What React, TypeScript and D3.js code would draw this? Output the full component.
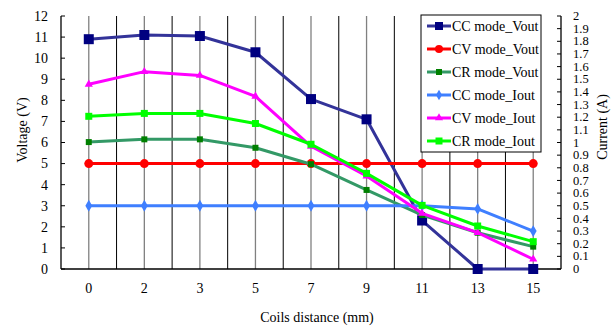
import React, { useEffect, useRef } from 'react';
import * as d3 from 'd3';

const distances = ['0', '2', '3', '5', '7', '9', '11', '13', '15'];

const ccVout = [10.9, 11.1, 11.05, 10.28, 8.06, 7.1, 2.3, 0, 0];
const cvVout = [5, 5, 5, 5, 5, 5, 5, 5, 5];
const crVout = [6.02, 6.15, 6.15, 5.75, 4.97, 3.75, 2.56, 1.72, 1.06];
const ccIout = [0.5, 0.5, 0.5, 0.5, 0.5, 0.5, 0.5, 0.475, 0.3];
const cvIout = [1.46, 1.56, 1.53, 1.365, 0.97, 0.735, 0.44, 0.287, 0.077];
const crIout = [1.207, 1.23, 1.23, 1.15, 0.986, 0.756, 0.503, 0.34, 0.216];

const voltTicks = d3.range(0, 13, 1);
const currTicks = d3.range(0, 21, 1).map(i => i / 10);

const series = [
  { name: 'CC mode_Vout', values: ccVout, axis: 'left', line: '#333399', fill: '#000080', shape: 'square', size: 10 },
  { name: 'CV mode_Vout', values: cvVout, axis: 'left', line: '#ff0000', fill: '#ff0000', shape: 'circle', size: 9 },
  { name: 'CR mode_Vout', values: crVout, axis: 'left', line: '#339966', fill: '#008000', shape: 'square', size: 6 },
  { name: 'CC mode_Iout', values: ccIout, axis: 'right', line: '#3f7fff', fill: '#3f7fff', shape: 'diamond', size: 9 },
  { name: 'CV mode_Iout', values: cvIout, axis: 'right', line: '#ff00ff', fill: '#ff00ff', shape: 'triangle', size: 8 },
  { name: 'CR mode_Iout', values: crIout, axis: 'right', line: '#00ff00', fill: '#00ff00', shape: 'square', size: 7 },
];

const App = () => {
  const ref = useRef<SVGSVGElement | null>(null);

  useEffect(() => {
    drawChart();
  }, []);

  const drawChart = () => {
    const svg = d3.select(ref.current);
    svg.selectAll('*').remove();

    const left = 61, right = 561, top = 16, bottom = 269;

    const x = d3.scaleBand().domain(distances).range([left, right]);
    const yV = d3.scaleLinear().domain([0, 12]).range([bottom, top]);
    const yI = d3.scaleLinear().domain([0, 2]).range([bottom, top]);
    const cx = (d: string) => (x(d) as number) + x.bandwidth() / 2;

    // Vertical gridlines: grey at categories, black between them
    distances.forEach((d, i) => {
      svg.append('line')
        .attr('x1', cx(d)).attr('x2', cx(d))
        .attr('y1', top).attr('y2', bottom)
        .attr('stroke', '#808080').attr('stroke-width', 1.3);
      if (i > 0) {
        const bx = x(d) as number;
        svg.append('line')
          .attr('x1', bx).attr('x2', bx)
          .attr('y1', top).attr('y2', bottom)
          .attr('stroke', '#000').attr('stroke-width', 1);
      }
    });

    // Axes
    svg.append('line').attr('x1', left).attr('x2', left).attr('y1', top).attr('y2', bottom).attr('stroke', '#000').attr('stroke-width', 1.3);
    svg.append('line').attr('x1', right).attr('x2', right).attr('y1', top).attr('y2', bottom).attr('stroke', '#000').attr('stroke-width', 1.3);
    svg.append('line').attr('x1', left).attr('x2', right).attr('y1', bottom).attr('y2', bottom).attr('stroke', '#000').attr('stroke-width', 1.3);

    voltTicks.forEach(t => {
      svg.append('line').attr('x1', left).attr('x2', left + 4).attr('y1', yV(t)).attr('y2', yV(t)).attr('stroke', '#000');
      svg.append('text')
        .attr('x', 48).attr('y', yV(t)).attr('dy', '0.35em')
        .attr('text-anchor', 'end')
        .attr('font-size', 14)
        .text(t);
    });

    currTicks.forEach(t => {
      svg.append('line').attr('x1', right - 4).attr('x2', right).attr('y1', yI(t)).attr('y2', yI(t)).attr('stroke', '#000');
      svg.append('text')
        .attr('x', 573).attr('y', yI(t)).attr('dy', '0.33em')
        .attr('font-size', 12.5)
        .text(String(t));
    });

    distances.forEach(d => {
      svg.append('text')
        .attr('x', cx(d)).attr('y', 293)
        .attr('text-anchor', 'middle')
        .attr('font-size', 14)
        .text(d);
    });

    svg.append('text')
      .attr('x', 317).attr('y', 322)
      .attr('text-anchor', 'middle')
      .attr('font-size', 14)
      .text('Coils distance (mm)');

    svg.append('text')
      .attr('transform', 'translate(27,130) rotate(-90)')
      .attr('text-anchor', 'middle')
      .attr('font-size', 14)
      .text('Voltage (V)');

    svg.append('text')
      .attr('transform', 'translate(607,127) rotate(-90)')
      .attr('text-anchor', 'middle')
      .attr('font-size', 14)
      .text('Current (A)');

    const symbolOf = (shape: string, size: number) => {
      if (shape === 'circle') return d3.symbol(d3.symbolCircle, size * size * Math.PI / 4)();
      if (shape === 'diamond') return d3.symbol(d3.symbolDiamond, size * size / 2)();
      if (shape === 'triangle') return d3.symbol(d3.symbolTriangle, size * size * 0.45)();
      return d3.symbol(d3.symbolSquare, size * size)();
    };

    series.forEach(s => {
      const yScale = s.axis === 'left' ? yV : yI;
      const line = d3.line<number>()
        .x((_, i) => cx(distances[i]))
        .y(v => yScale(v));
      svg.append('path')
        .attr('d', line(s.values))
        .attr('fill', 'none')
        .attr('stroke', s.line)
        .attr('stroke-width', 3)
        .attr('stroke-linejoin', 'round');
      s.values.forEach((v, i) => {
        svg.append('path')
          .attr('d', symbolOf(s.shape, s.size))
          .attr('transform', `translate(${cx(distances[i])},${yScale(v)})`)
          .attr('fill', s.fill);
      });
    });

    // Legend
    const legend = svg.append('g');
    legend.append('rect')
      .attr('x', 421).attr('y', 15).attr('width', 120).attr('height', 137)
      .attr('fill', '#fff').attr('stroke', '#000');
    series.forEach((s, i) => {
      const ly = 26 + i * 23;
      legend.append('line')
        .attr('x1', 427).attr('x2', 451).attr('y1', ly).attr('y2', ly)
        .attr('stroke', s.line).attr('stroke-width', 3);
      legend.append('path')
        .attr('d', symbolOf(s.shape, Math.min(s.size, 8)))
        .attr('transform', `translate(439,${ly})`)
        .attr('fill', s.fill);
      legend.append('text')
        .attr('x', 452).attr('y', ly).attr('dy', '0.35em')
        .attr('font-size', 14)
        .text(s.name);
    });
  };

  return (
    <svg ref={ref} width={616} height={327}
      fontFamily="'Liberation Serif', 'Times New Roman', 'DejaVu Serif', serif"
      style={{ position: 'absolute', left: 0, top: 0, background: '#fff' }} />
  );
};

export default App;
